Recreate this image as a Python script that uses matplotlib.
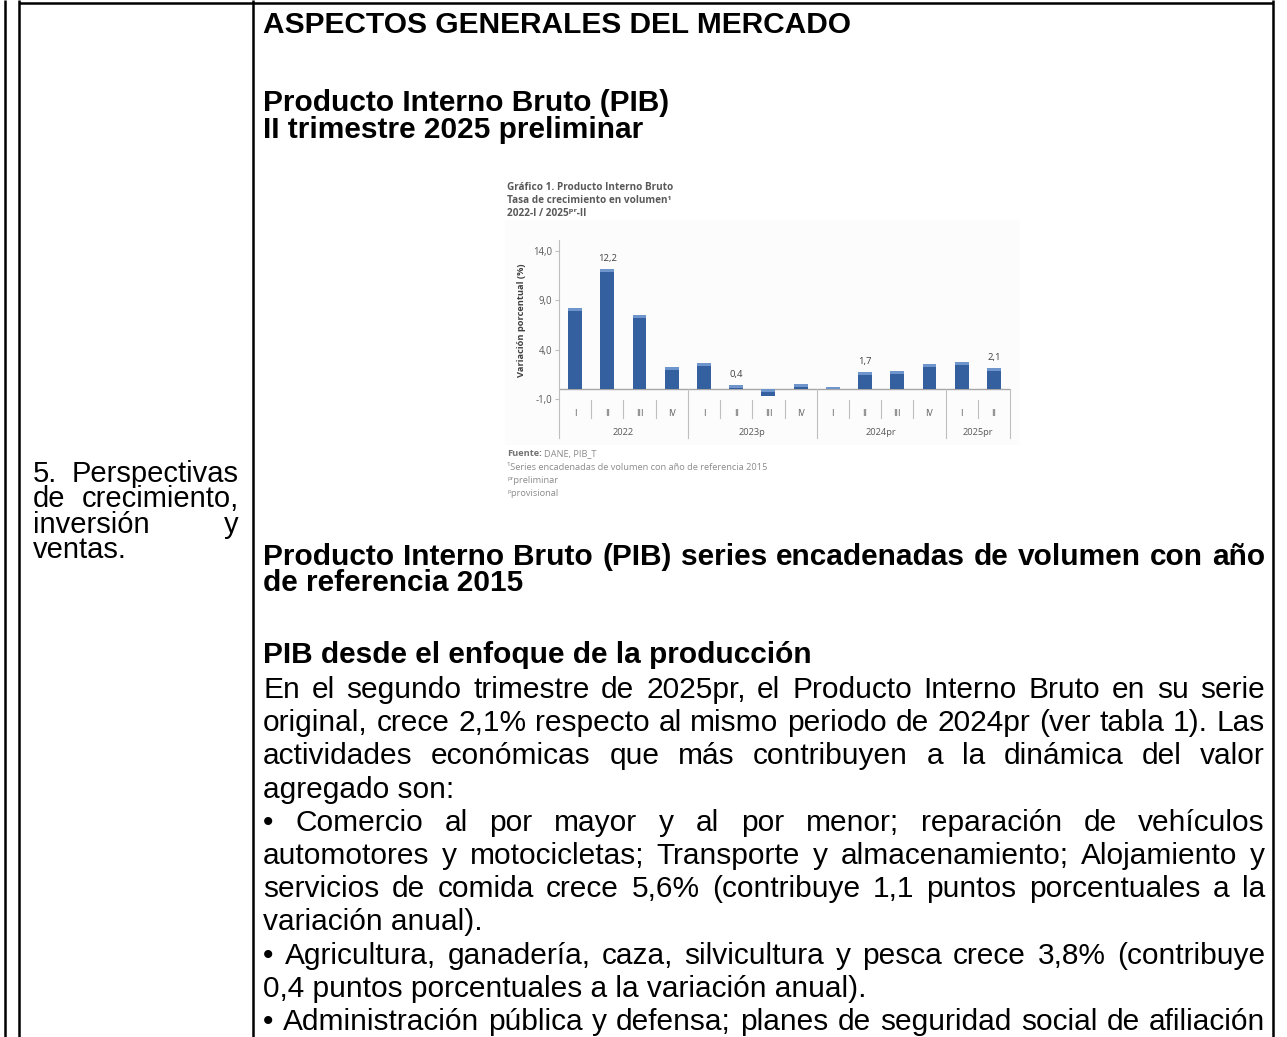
import matplotlib
matplotlib.use('Agg')
import matplotlib.pyplot as plt

W, H = 1287, 1037
PAGE_FONT = 'Liberation Sans'
CHART_FONT = ['Open Sans', 'DejaVu Sans']
GRAY = '#595959'

# chart data (Gráfico 1, DANE)
YEARS = ['2022', '2023p', '2024pr', '2025pr']
YEAR_SIZES = [4, 4, 4, 2]
QUARTERS = ['I', 'II', 'III', 'IV', 'I', 'II', 'III', 'IV',
            'I', 'II', 'III', 'IV', 'I', 'II']
GROWTH = [8.2, 12.2, 7.5, 2.2, 2.6, 0.4, -0.7, 0.5, 0.2, 1.7, 1.8, 2.5, 2.7, 2.1]
LABELLED = [1, 5, 9, 13]
YTICKS = [-1.0, 4.0, 9.0, 14.0]

# page text
HEAD_TOP = ['ASPECTOS GENERALES DEL MERCADO',
            'Producto Interno Bruto (PIB)', 'II trimestre 2025 preliminar']
HEAD_MID = ['Producto Interno Bruto (PIB) series encadenadas de volumen con año',
            'de referencia 2015']
HEAD_PROD = 'PIB desde el enfoque de la producción'
BODY = [
    ('En el segundo trimestre de 2025pr, el Producto Interno Bruto en su serie', True),
    ('original, crece 2,1% respecto al mismo periodo de 2024pr (ver tabla 1). Las', True),
    ('actividades económicas que más contribuyen a la dinámica del valor', True),
    ('agregado son:', False),
    ('• Comercio al por mayor y al por menor; reparación de vehículos', True),
    ('automotores y motocicletas; Transporte y almacenamiento; Alojamiento y', True),
    ('servicios de comida crece 5,6% (contribuye 1,1 puntos porcentuales a la', True),
    ('variación anual).', False),
    ('• Agricultura, ganadería, caza, silvicultura y pesca crece 3,8% (contribuye', True),
    ('0,4 puntos porcentuales a la variación anual).', False),
    ('• Administración pública y defensa; planes de seguridad social de afiliación', True),
]
LEFT_CELL = [('5. Perspectivas', True), ('de crecimiento,', True),
             ('inversión y', True), ('ventas.', False)]
FOOTNOTES = ['¹Series encadenadas de volumen con año de referencia 2015',
             'ᵖʳpreliminar', 'ᵖprovisional']


def fmt(v):
    return f'{v:.1f}'.replace('.', ',')


fig = plt.figure(figsize=(W / 100, H / 100), dpi=100)
page = fig.add_axes([0, 0, 1, 1])
page.set_xlim(0, W)
page.set_ylim(H, 0)
page.axis('off')
renderer = fig.canvas.get_renderer()


def put_line(text, y, x0, x1, size, bold=False, justify=False):
    kw = dict(fontsize=size, family=PAGE_FONT, fontweight='bold' if bold else 'normal',
              va='baseline', ha='left', color='black')
    words = text.split(' ')
    if not justify or len(words) == 1:
        page.text(x0, y, text, **kw)
        return
    items = [page.text(0, y, w, **kw) for w in words]
    widths = [t.get_window_extent(renderer).width for t in items]
    gap = (x1 - x0 - sum(widths)) / (len(words) - 1)
    x = x0
    for t, w in zip(items, widths):
        t.set_x(x)
        x += w + gap


# table rules
lw = 1.8
for x in [5, 19, 253, 1273]:
    page.plot([x, x], [0, H], color='black', lw=lw, solid_capstyle='butt')
page.plot([19, 1273], [3, 3], color='black', lw=lw, solid_capstyle='butt')

# left cell
for k, (txt, just) in enumerate(LEFT_CELL):
    put_line(txt, 482 + 25.3 * k, 33, 239, 21, justify=just)

# right cell text
X0, X1 = 263, 1265
FS = 21.5
put_line(HEAD_TOP[0], 33, X0, X1, FS, bold=True)
put_line(HEAD_TOP[1], 111, X0, X1, FS, bold=True)
put_line(HEAD_TOP[2], 138, X0, X1, FS, bold=True)
put_line(HEAD_MID[0], 565, X0, X1, FS, bold=True, justify=True)
put_line(HEAD_MID[1], 591, X0, X1, FS, bold=True)
put_line(HEAD_PROD, 663, X0, X1, FS, bold=True)
for k, (txt, just) in enumerate(BODY):
    put_line(txt, 698 + 33.2 * k, X0, X1, FS, justify=just)

# embedded chart: faint background, titles, footnotes
page.add_patch(plt.Rectangle((505, 220), 515, 225, facecolor='#FCFCFC', edgecolor='none'))
for k, t in enumerate(['Gráfico 1. Producto Interno Bruto',
                       'Tasa de crecimiento en volumen¹',
                       '2022-I / 2025ᵖʳ-II']):
    page.text(507, 187 + 13.5 * k, t, fontsize=7.2, family=CHART_FONT, fontweight='bold',
              color=GRAY, va='center', ha='left')
ft = page.text(507, 454, 'Fuente:', fontsize=6.7, family=CHART_FONT, fontweight='bold',
               color='#737373', va='center', ha='left')
fw = ft.get_window_extent(renderer).width
page.text(507 + fw + 2, 454, 'DANE, PIB_T', fontsize=6.7, family=CHART_FONT,
          color='#8C8C8C', va='center', ha='left')
for k, t in enumerate(FOOTNOTES):
    page.text(507, 467 + 13.5 * k, t, fontsize=6.7, family=CHART_FONT,
              color='#8C8C8C', va='center', ha='left')
page.text(522, 320, 'Variación porcentual (%)', fontsize=6.7, family=CHART_FONT,
          fontweight='bold', color='#404040', rotation=90, va='center', ha='center')

# chart axes
ax = fig.add_axes([559 / W, 1 - 438 / H, (1010 - 559) / W, (438 - 240) / H])
ax.patch.set_alpha(0)
n = len(GROWTH)
xs = list(range(n))
ax.set_xlim(-0.5, n - 0.5)
ax.set_ylim(-4.97, 15.11)
ax.bar(xs, GROWTH, width=0.43, color='#34609F', zorder=3)
caps = [min(0.3, abs(v)) for v in GROWTH]
cap_bottom = [max(v, 0) - c for v, c in zip(GROWTH, caps)]
ax.bar(xs, caps, bottom=cap_bottom, width=0.43, color='#6E96CC', zorder=4)
ax.axhline(0, color='#A6A6A6', lw=1, zorder=2)
for i in LABELLED:
    ax.text(i, GROWTH[i] + 1.05, fmt(GROWTH[i]), ha='center', va='center',
            fontsize=6.8, family=CHART_FONT, color='#404040')

for s in ['top', 'right', 'bottom']:
    ax.spines[s].set_visible(False)
ax.spines['left'].set_color('#BFBFBF')
ax.set_yticks(YTICKS)
ax.set_yticklabels([fmt(v) for v in YTICKS], fontsize=6.9, color=GRAY, family=CHART_FONT)
ax.tick_params(axis='y', length=3, color='#BFBFBF', pad=2)
ax.set_xticks([])

trans = ax.get_xaxis_transform()
year_edges = [-0.5]
for sz in YEAR_SIZES:
    year_edges.append(year_edges[-1] + sz)
for b in range(n - 1):
    xb = b + 0.5
    if xb in year_edges:
        continue
    ax.plot([xb, xb], [0.10, 0.19], transform=trans, color='#BFBFBF', lw=0.8, clip_on=False)
for xb in year_edges[1:]:
    ax.plot([xb, xb], [0, 0.247], transform=trans, color='#BFBFBF', lw=0.8, clip_on=False)
for i, q in enumerate(QUARTERS):
    ax.text(i, 0.126, q, transform=trans, ha='center', va='center', fontsize=6.3,
            family=CHART_FONT, color=GRAY)
for y, a, b in zip(YEARS, year_edges[:-1], year_edges[1:]):
    ax.text((a + b) / 2, 0.03, y, transform=trans, ha='center', va='center', fontsize=6.7,
            family=CHART_FONT, color=GRAY)

fig.savefig('out.png', dpi=100)
